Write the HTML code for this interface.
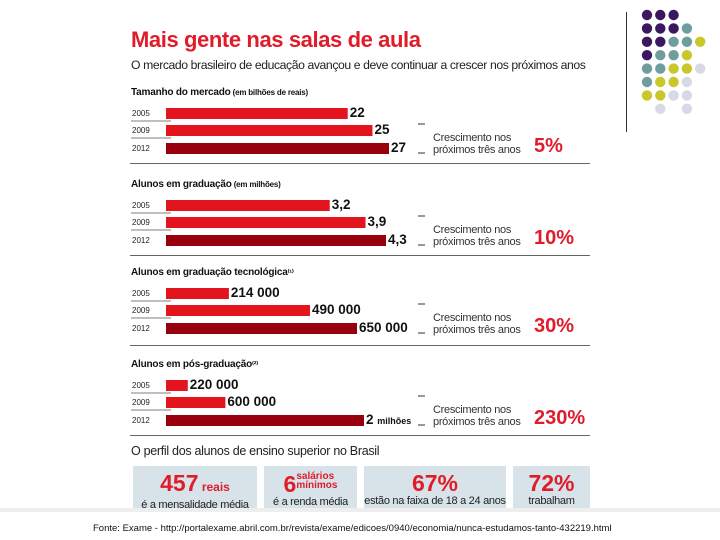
<!DOCTYPE html>
<html><head><meta charset="utf-8"><style>
body{margin:0;background:#fff;}
#root{position:relative;width:720px;height:540px;overflow:hidden;font-family:"Liberation Sans",sans-serif;}
.abs{position:absolute;white-space:nowrap;}
.title{left:131px;top:27px;font-size:22px;font-weight:bold;color:#e01b2a;letter-spacing:-0.4px;}
.sub{left:131px;top:58px;font-size:12.2px;color:#222;letter-spacing:-0.4px;}
.sec{font-size:10px;font-weight:bold;color:#111;letter-spacing:-0.2px;}
.sec span{font-size:8px;}
.yr{font-size:8px;color:#222;}
.val{font-size:13.5px;font-weight:bold;color:#111;}
.grow{font-size:11px;color:#333;line-height:12px;letter-spacing:-0.3px;}
.pct{font-size:20px;font-weight:bold;color:#e01b2a;}
.sep{height:1px;background:#666;left:130px;width:460px;}
.box{background:#d7e3e9;top:466px;height:42px;text-align:center;overflow:hidden;}
.big{font-size:23px;font-weight:bold;color:#e01b2a;line-height:22px;margin-top:6px;}
.small{font-size:11px;color:#222;letter-spacing:-0.3px;line-height:12px;margin-top:1px;}
</style></head><body>
<div id="root">
<div class="abs title">Mais gente nas salas de aula</div>
<div class="abs sub">O mercado brasileiro de educação avançou e deve continuar a crescer nos próximos anos</div>
<svg class="abs" style="left:0;top:0" width="720" height="540" id="svg"></svg>
<div class="abs sep" style="top:163px"></div>
<div class="abs sep" style="top:255px"></div>
<div class="abs sep" style="top:345px"></div>
<div class="abs sep" style="top:435px"></div>
<div class="abs" style="left:131px;top:444px;font-size:12.5px;color:#222;letter-spacing:-0.3px">O perfil dos alunos de ensino superior no Brasil</div>
<div class="abs box" style="left:133px;width:124px"><div class="big">457<span style="font-size:12px"> reais</span></div><div class="small">é a mensalidade média</div></div>
<div class="abs box" style="left:264px;width:93px"><div class="big">6<span style="font-size:10px;display:inline-block;line-height:9px;vertical-align:4px;text-align:left"> salários<br> mínimos</span></div><div class="small">é a renda média</div></div>
<div class="abs box" style="left:364px;width:142px"><div class="big">67%</div><div class="small">estão na faixa de 18 a 24 anos</div></div>
<div class="abs box" style="left:513px;width:77px"><div class="big">72%</div><div class="small">trabalham</div></div>
<div class="abs" style="left:0;top:508px;width:720px;height:4px;background:#eee"></div>
<div class="abs" style="left:93px;top:523px;font-size:9.5px;color:#111">Fonte: Exame - http://portalexame.abril.com.br/revista/exame/edicoes/0940/economia/nunca-estudamos-tanto-432219.html</div>
<div class="abs" style="left:626px;top:12px;width:1px;height:120px;background:#333"></div>
</div>
<script>
const years=["2005","2009","2012"];
const sectionTitles=["Tamanho do mercado","Alunos em graduação","Alunos em graduação tecnológica","Alunos em pós-graduação"];
const sectionUnits=[" (em bilhões de reais)"," (em milhões)","⁽¹⁾","⁽²⁾"];
const marketValues=[22,25,27];
const gradValues=[3.2,3.9,4.3];
const techValues=[214000,490000,650000];
const postValues=[220000,600000,2000000];
const valueLabels=[["22","25","27"],["3,2","3,9","4,3"],["214 000","490 000","650 000"],["220 000","600 000","2 milhões"]];
const growthLabels=["5%","10%","30%","230%"];
const series=[marketValues,gradValues,techValues,postValues];
const maxima=[27,4.3,650000,2000000];
const maxW=[223,220,191,198];
const secTop=[87,179,267,359];
const barOff=[21,38,56];
const x0=166;
function scale(s,v){return v/maxima[s]*maxW[s];}
const svg=document.getElementById('svg'),root=document.getElementById('root');
const NS="http://www.w3.org/2000/svg";
series.forEach((vals,s)=>{
  const t=document.createElement('div');
  t.className='abs sec';t.style.left='131px';t.style.top=secTop[s]+'px';
  t.innerHTML=sectionTitles[s]+'<span>'+sectionUnits[s]+'</span>';
  
  
  root.appendChild(t);
  vals.forEach((v,i)=>{
    const y=secTop[s]+barOff[i];
    const w=scale(s,v);
    const r=document.createElementNS(NS,'rect');
    r.setAttribute('x',x0);r.setAttribute('y',y);r.setAttribute('width',w);r.setAttribute('height',11);
    r.setAttribute('fill',i==2?'#99000d':'#e4141f');
    
    
    svg.appendChild(r);
    if(i<2){const l=document.createElementNS(NS,'line');
      l.setAttribute('x1',131);l.setAttribute('x2',171);l.setAttribute('y1',y+13);l.setAttribute('y2',y+13);
      l.setAttribute('stroke','#555');l.setAttribute('stroke-width','0.8');
      
      
      svg.appendChild(l);}
    if(i>0){const d=document.createElementNS(NS,'line');
      d.setAttribute('x1',418);d.setAttribute('x2',425);d.setAttribute('y1',y+(i==1?-1:10));d.setAttribute('y2',y+(i==1?-1:10));
      d.setAttribute('stroke','#333');
      
      
      svg.appendChild(d);}
    const yl=document.createElement('div');
    yl.className='abs yr';yl.style.left='132px';yl.style.top=(y+1)+'px';yl.textContent=years[i];
    
    
    root.appendChild(yl);
    const vl=document.createElement('div');
    vl.className='abs val';vl.style.left=(x0+w+2)+'px';vl.style.top=(y-3)+'px';
    const lab=valueLabels[s][i];
    vl.innerHTML=lab.indexOf('milhões')>0?'2 <span style="font-size:9px">milhões</span>':lab;
    
    
    root.appendChild(vl);
  });
  const g=document.createElement('div');
  g.className='abs grow';g.style.left='433px';g.style.top=(secTop[s]+45)+'px';
  g.innerHTML='Crescimento nos<br>próximos três anos';
  
  
  root.appendChild(g);
  const p=document.createElement('div');
  p.className='abs pct';p.style.left='534px';p.style.top=(secTop[s]+48)+'px';p.textContent=growthLabels[s];
  
  
  root.appendChild(p);
});
const dotRows=["PPP","PPPT","PPTTY","PTTY","TTYYL","TYYL","YYLL","_L_L"];
const dotColors={P:'#3b1760',T:'#6f9d9f',Y:'#c9c82a',L:'#d7d8e8'};
dotRows.forEach((row,r)=>{[...row].forEach((c,k)=>{
  if(c==='_')return;
  const ci=document.createElementNS(NS,'circle');
  ci.setAttribute('cx',647+k*13.3);ci.setAttribute('cy',15+r*13.4);ci.setAttribute('r',5.2);
  ci.setAttribute('fill',dotColors[c]);
  
  
  svg.appendChild(ci);
});});
</script>
</body></html>
